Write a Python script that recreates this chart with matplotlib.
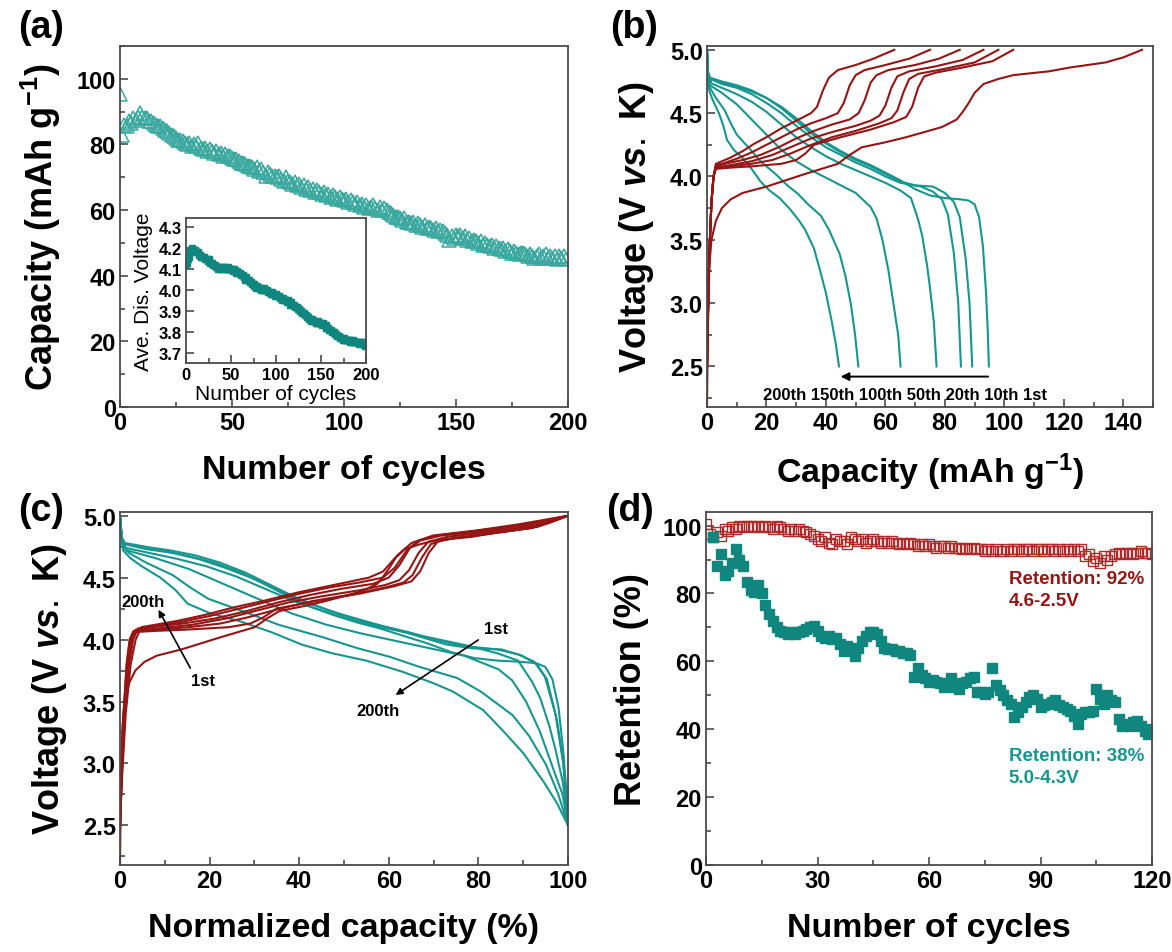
import matplotlib.pyplot as plt
import numpy as np
from matplotlib.ticker import MultipleLocator

plt.rcParams['font.family'] = ['Liberation Sans Narrow', 'Liberation Sans', 'DejaVu Sans']
plt.rcParams['mathtext.fontset'] = 'custom'
plt.rcParams['mathtext.rm'] = 'Liberation Sans'
plt.rcParams['mathtext.bf'] = 'Liberation Sans:bold'
plt.rcParams['mathtext.it'] = 'Liberation Sans:italic:bold'
LABEL_FONT = ['Liberation Sans', 'DejaVu Sans']

TEAL = "#17968f"
TEAL_LIGHT = "#3aa89f"
TEAL_DARK = "#10877e"
RED = "#951515"
RED_LIGHT = "#b02a2a"

# (a) discharge capacity vs cycle
capacity_a = [
    95.5, 83.0, 86.0, 85.5, 87.0, 86.5, 88.0, 87.5, 88.5, 89.5,
    88.5, 88.0, 88.0, 87.0, 87.0, 86.5, 86.0, 85.5, 85.5, 85.0,
    84.5, 84.0, 83.5, 83.0, 82.5, 82.0, 81.5, 81.5, 81.0, 80.5,
    80.0, 80.5, 79.5, 80.0, 79.5, 80.5, 79.0, 78.5, 79.0, 78.0,
    78.5, 78.0, 77.5, 78.0, 77.0, 77.5, 76.5, 77.0, 76.5, 76.5,
    76.0, 75.5, 75.5, 75.0, 74.5, 74.5, 74.0, 73.5, 73.5, 73.0,
    72.5, 73.0, 72.0, 72.5, 71.5, 70.5, 71.5, 71.0, 70.5, 70.5,
    70.0, 70.5, 69.5, 69.0, 70.0, 69.0, 68.5, 68.0, 68.5, 67.5,
    68.0, 67.0, 67.5, 66.5, 67.0, 66.0, 66.5, 65.5, 66.0, 65.5,
    65.0, 65.5, 64.5, 65.0, 64.0, 64.5, 64.0, 63.5, 64.0, 63.5,
    63.0, 63.5, 62.5, 63.0, 62.5, 62.0, 62.5, 61.5, 62.0, 61.0,
    61.5, 60.5, 61.0, 61.5, 60.5, 60.0, 61.0, 60.0, 60.5, 60.0,
    59.5, 59.0, 58.5, 58.0, 58.0, 57.5, 57.0, 57.5, 56.5, 56.5,
    56.0, 56.5, 55.5, 56.0, 55.5, 55.0, 55.5, 54.5, 55.0, 54.5,
    54.0, 54.5, 53.5, 54.0, 53.5, 53.0, 52.5, 51.0, 52.0, 51.5,
    52.5, 52.0, 52.5, 51.5, 52.0, 51.0, 51.5, 50.5, 51.0, 50.5,
    50.0, 50.5, 49.5, 50.0, 49.5, 49.0, 49.5, 48.5, 49.0, 48.5,
    48.0, 48.5, 47.5, 48.0, 47.5, 47.0, 47.5, 47.0, 46.5, 47.0,
    47.0, 46.5, 46.0, 46.5, 46.0, 45.5, 46.0, 46.5, 45.5, 46.0,
    46.5, 45.5, 46.0, 45.5, 46.0, 45.0, 46.0, 45.5, 46.0, 45.0,
]
cycles_a = np.arange(len(capacity_a))

# (a) inset: average discharge voltage
avg_voltage = [
    4.12, 4.13, 4.15, 4.16, 4.18, 4.19, 4.19, 4.20, 4.19, 4.19,
    4.19, 4.18, 4.18, 4.18, 4.17, 4.17, 4.17, 4.16, 4.16, 4.16,
    4.16, 4.15, 4.15, 4.15, 4.14, 4.15, 4.14, 4.13, 4.13, 4.13,
    4.12, 4.12, 4.12, 4.11, 4.11, 4.11, 4.10, 4.11, 4.10, 4.10,
    4.11, 4.11, 4.10, 4.11, 4.10, 4.10, 4.10, 4.11, 4.10, 4.10,
    4.10, 4.10, 4.09, 4.10, 4.09, 4.09, 4.08, 4.09, 4.08, 4.08,
    4.08, 4.07, 4.07, 4.07, 4.06, 4.06, 4.05, 4.06, 4.05, 4.05,
    4.05, 4.04, 4.04, 4.03, 4.03, 4.03, 4.02, 4.02, 4.01, 4.02,
    4.01, 4.01, 4.01, 4.00, 4.01, 4.00, 4.00, 4.01, 4.00, 4.00,
    4.00, 3.99, 3.99, 3.99, 3.98, 3.99, 3.98, 3.98, 3.98, 3.97,
    3.98, 3.97, 3.97, 3.97, 3.96, 3.96, 3.96, 3.95, 3.96, 3.95,
    3.95, 3.95, 3.94, 3.95, 3.94, 3.94, 3.93, 3.94, 3.93, 3.93,
    3.93, 3.92, 3.92, 3.92, 3.91, 3.91, 3.91, 3.90, 3.90, 3.89,
    3.89, 3.89, 3.88, 3.88, 3.87, 3.87, 3.87, 3.86, 3.86, 3.85,
    3.86, 3.85, 3.85, 3.85, 3.84, 3.84, 3.84, 3.85, 3.84, 3.84,
    3.84, 3.83, 3.84, 3.83, 3.83, 3.83, 3.82, 3.82, 3.82, 3.81,
    3.81, 3.81, 3.80, 3.80, 3.80, 3.79, 3.79, 3.79, 3.78, 3.78,
    3.78, 3.77, 3.77, 3.77, 3.76, 3.77, 3.76, 3.76, 3.76, 3.76,
    3.76, 3.76, 3.75, 3.76, 3.75, 3.76, 3.75, 3.75, 3.75, 3.75,
    3.75, 3.75, 3.74, 3.75, 3.75, 3.74, 3.75, 3.74, 3.74, 3.73,
]
cycles_inset = np.arange(len(avg_voltage))

# (b) charge curves (capacity mAh/g, voltage V)
chg_1st_q = [0, 0.3, 0.8, 1.5, 3, 5, 8, 12, 20, 33, 44, 48, 52, 60, 67, 79, 84, 86, 88, 90, 93, 98, 103, 115, 122, 134, 140, 146.3]
chg_1st_v = [2.18, 2.8, 3.3, 3.5, 3.65, 3.75, 3.82, 3.87, 3.92, 4.02, 4.10, 4.17, 4.23, 4.27, 4.31, 4.39, 4.45, 4.51, 4.58, 4.66, 4.73, 4.77, 4.80, 4.83, 4.86, 4.90, 4.94, 5.0]
chg_10_q = [0, 0.3, 0.8, 1.5, 2.2, 3, 8, 15, 25, 30, 33, 36, 45, 55, 63, 67, 69, 71, 73, 77, 86, 96, 103]
chg_10_v = [2.5, 2.9, 3.4, 3.8, 4.0, 4.06, 4.07, 4.08, 4.10, 4.13, 4.18, 4.25, 4.31, 4.37, 4.43, 4.47, 4.55, 4.70, 4.79, 4.82, 4.86, 4.91, 5.0]
chg_20_q = [0, 0.3, 0.8, 1.5, 2.2, 3, 8, 15, 22, 28, 34, 42, 50, 58, 62, 64, 66, 68, 71, 80, 90, 98]
chg_20_v = [2.5, 2.9, 3.4, 3.8, 4.0, 4.07, 4.08, 4.10, 4.13, 4.18, 4.24, 4.31, 4.36, 4.42, 4.46, 4.52, 4.66, 4.77, 4.81, 4.85, 4.90, 5.0]
chg_50_q = [0, 0.3, 0.8, 1.5, 2.2, 3, 8, 15, 22, 28, 35, 42, 50, 55, 58, 60, 62, 64, 68, 77, 86, 93]
chg_50_v = [2.5, 2.9, 3.4, 3.8, 4.0, 4.07, 4.09, 4.12, 4.17, 4.23, 4.30, 4.35, 4.40, 4.44, 4.48, 4.56, 4.70, 4.79, 4.83, 4.87, 4.92, 5.0]
chg_100_q = [0, 0.3, 0.8, 1.5, 2.2, 3, 6, 12, 18, 24, 30, 36, 42, 48, 51, 53, 55, 57, 61, 70, 78, 85]
chg_100_v = [2.5, 2.9, 3.4, 3.8, 4.0, 4.08, 4.10, 4.13, 4.17, 4.23, 4.30, 4.36, 4.41, 4.45, 4.50, 4.60, 4.74, 4.80, 4.84, 4.88, 4.93, 5.0]
chg_150_q = [0, 0.3, 0.8, 1.5, 2.2, 3, 5, 10, 15, 20, 25, 30, 35, 40, 44, 46, 48, 50, 53, 60, 68, 75]
chg_150_v = [2.5, 2.9, 3.4, 3.8, 4.0, 4.09, 4.10, 4.14, 4.19, 4.25, 4.31, 4.37, 4.42, 4.46, 4.50, 4.58, 4.72, 4.80, 4.84, 4.88, 4.93, 5.0]
chg_200_q = [0, 0.3, 0.8, 1.5, 2.2, 3, 4, 8, 12, 16, 20, 25, 30, 35, 37, 39, 41, 44, 50, 56, 63]
chg_200_v = [2.5, 2.9, 3.4, 3.8, 4.0, 4.10, 4.11, 4.15, 4.20, 4.26, 4.31, 4.38, 4.44, 4.50, 4.55, 4.68, 4.78, 4.84, 4.88, 4.93, 5.0]

# (b) discharge curves
dis_1st_q = [0, 0.3, 1, 5, 10, 15, 20, 25, 30, 35, 40, 45, 50, 55, 60, 65, 70, 75, 80, 85, 88, 90, 91.5, 92.8, 93.8, 94.4, 94.8]
dis_1st_v = [5.0, 4.82, 4.77, 4.74, 4.71, 4.67, 4.62, 4.55, 4.46, 4.36, 4.27, 4.20, 4.14, 4.09, 4.03, 3.97, 3.90, 3.85, 3.83, 3.82, 3.81, 3.78, 3.68, 3.45, 3.10, 2.80, 2.5]
dis_10_q = [0, 0.3, 1, 5, 10, 15, 20, 25, 30, 35, 40, 45, 50, 55, 60, 65, 70, 76, 80, 83, 85, 87, 88.3, 89.2]
dis_10_v = [5.0, 4.83, 4.78, 4.75, 4.72, 4.68, 4.62, 4.54, 4.44, 4.34, 4.26, 4.19, 4.13, 4.08, 4.02, 3.96, 3.93, 3.92, 3.87, 3.80, 3.68, 3.35, 3.0, 2.5]
dis_20_q = [0, 0.3, 1, 5, 10, 15, 20, 25, 30, 35, 40, 45, 50, 55, 60, 65, 72, 76, 79, 81, 83, 84.5, 85.4]
dis_20_v = [5.0, 4.82, 4.77, 4.73, 4.70, 4.65, 4.58, 4.50, 4.40, 4.31, 4.23, 4.17, 4.11, 4.06, 4.00, 3.95, 3.92, 3.88, 3.82, 3.70, 3.40, 3.00, 2.5]
dis_50_q = [0, 0.3, 1, 5, 10, 15, 20, 25, 30, 35, 40, 45, 50, 55, 60, 65, 68.6, 71, 72.4, 74, 75, 76.3, 77.2]
dis_50_v = [5.0, 4.80, 4.74, 4.70, 4.65, 4.59, 4.51, 4.41, 4.31, 4.23, 4.16, 4.10, 4.05, 4.00, 3.95, 3.89, 3.83, 3.66, 3.53, 3.30, 3.12, 2.85, 2.5]
dis_100_q = [0, 0.3, 1, 5, 10, 15, 20, 25, 30, 35, 40, 45, 50, 55, 57, 59, 61, 63, 64.3, 65.1]
dis_100_v = [5.0, 4.78, 4.72, 4.66, 4.57, 4.45, 4.33, 4.21, 4.12, 4.05, 3.99, 3.93, 3.87, 3.76, 3.67, 3.50, 3.26, 2.95, 2.75, 2.5]
dis_150_q = [0, 0.3, 1, 3, 6, 8, 10, 14.3, 18, 23, 27, 30.7, 34, 38.3, 41, 44.6, 46.5, 48.4, 49.8, 50.9]
dis_150_v = [5.0, 4.75, 4.70, 4.62, 4.52, 4.42, 4.33, 4.22, 4.12, 4.02, 3.93, 3.86, 3.78, 3.69, 3.58, 3.39, 3.22, 2.99, 2.75, 2.5]
dis_200_q = [0, 0.3, 1, 2, 4, 5.5, 6.7, 9, 11.8, 15, 18, 21, 24.4, 28, 31, 33, 36, 38, 40, 42, 43.3, 44.4]
dis_200_v = [5.0, 4.72, 4.66, 4.60, 4.50, 4.40, 4.29, 4.21, 4.15, 4.06, 3.96, 3.89, 3.83, 3.74, 3.65, 3.58, 3.43, 3.26, 3.08, 2.85, 2.68, 2.5]

charge_curves = [(chg_1st_q, chg_1st_v), (chg_10_q, chg_10_v), (chg_20_q, chg_20_v),
                 (chg_50_q, chg_50_v), (chg_100_q, chg_100_v), (chg_150_q, chg_150_v),
                 (chg_200_q, chg_200_v)]
discharge_curves = [(dis_1st_q, dis_1st_v), (dis_10_q, dis_10_v), (dis_20_q, dis_20_v),
                    (dis_50_q, dis_50_v), (dis_100_q, dis_100_v), (dis_150_q, dis_150_v),
                    (dis_200_q, dis_200_v)]
cycle_labels_b = "200th 150th 100th 50th 20th 10th 1st"

# (d) capacity retention
retention_low = [
    100.5, 97.5, 96.5, 98.0, 97.0, 99.0, 98.5, 99.5, 99.0, 100.0,
    99.5, 100.0, 100.0, 99.5, 100.0, 99.5, 100.0, 99.5, 99.0, 100.0,
    99.5, 99.0, 98.5, 99.0, 98.5, 99.0, 98.5, 98.0, 97.5, 97.0,
    96.0, 95.5, 96.5, 95.0, 94.5, 96.0, 95.5, 95.5, 94.5, 96.5,
    96.0, 95.5, 96.0, 95.0, 95.5, 96.0, 95.5, 95.0, 95.5, 95.0,
    95.5, 95.0, 94.5, 95.0, 94.5, 95.0, 94.5, 94.0, 94.5, 94.0,
    94.5, 94.0, 93.5, 94.0, 94.0, 93.5, 94.0, 93.5, 93.5, 93.0,
    93.5, 93.0, 93.5, 93.0, 93.0, 92.5, 93.0, 92.5, 93.0, 92.5,
    92.5, 93.0, 92.5, 93.0, 93.0, 92.5, 93.0, 93.0, 92.5, 93.0,
    93.0, 92.5, 93.0, 93.0, 92.5, 93.0, 92.5, 93.0, 92.5, 93.0,
    92.5, 93.0, 91.0, 91.5, 89.5, 90.5, 89.0, 91.0, 90.0, 91.0,
    91.5, 92.0, 91.5, 92.0, 92.0, 91.5, 92.0, 92.5, 92.0, 92.0, 91.5,
]
cycles_low = np.arange(len(retention_low))
retention_high = [
    96.5, 88.0, 91.5, 85.5, 86.5, 89.0, 93.0, 90.0, 88.0, 83.5,
    81.0, 80.5, 82.5, 80.0, 76.5, 74.0, 72.0, 70.0, 69.0, 68.5,
    68.0, 68.5, 68.0, 68.5, 69.0, 69.5, 70.0, 70.5, 69.0, 67.5,
    67.0, 67.5, 66.5, 67.0, 65.0, 63.0, 64.5, 63.5, 61.5, 64.0,
    66.0, 67.5, 68.5, 68.5, 68.0, 66.0, 64.0, 63.5, 63.5, 63.0,
    63.0, 62.5, 62.5, 62.0, 55.5, 58.0, 56.0, 55.0, 54.0, 54.5,
    54.0, 53.5, 52.5, 53.5, 55.0, 52.5, 52.0, 53.5, 54.0, 55.0,
    55.5, 51.0, 51.0, 50.5, 51.0, 58.0, 53.0, 51.5, 50.0, 48.5,
    47.5, 43.5, 45.0, 46.5, 48.0, 49.5, 50.0, 49.0, 46.5, 47.0,
    47.5, 48.0, 48.5, 47.0, 46.5, 46.0, 45.5, 44.0, 41.5, 44.5,
    45.0, 45.0, 45.5, 52.0, 49.0, 47.5, 50.0, 48.5, 48.0, 43.0,
    41.0, 41.5, 41.0, 42.0, 42.5, 41.0, 39.5, 38.5, 40.0,
]
cycles_high = np.arange(2, 2 + len(retention_high))

W, H = 1172, 953


def rect(left, top, right, bottom):
    return [left / W, 1 - bottom / H, (right - left) / W, (bottom - top) / H]


def style(ax, size=17):
    for s in ax.spines.values():
        s.set_color("#4a4a4a")
        s.set_linewidth(1.3)
    ax.tick_params(which="both", direction="in", top=False, right=False,
                   width=1.2, pad=3, labelsize=size, colors="#4a4a4a", labelcolor="black")
    ax.tick_params(which="major", length=6)
    ax.tick_params(which="minor", length=3.5)
    for lab in ax.get_xticklabels() + ax.get_yticklabels():
        lab.set_fontweight("bold")


def label(ax, xl, yl, xpad, ypad):
    ax.set_xlabel(xl, fontsize=24.5, fontweight="bold", family=LABEL_FONT, labelpad=xpad)
    ax.set_ylabel(yl, fontsize=26, fontweight="bold", family=LABEL_FONT, labelpad=ypad)


fig = plt.figure(figsize=(11.72, 9.53), dpi=100)

# ---- (a)
ax = fig.add_axes(rect(120, 47, 568, 408))
ax.plot(cycles_a, capacity_a, linestyle="none", marker="^", markersize=10,
        markerfacecolor="none", markeredgecolor=TEAL_LIGHT, markeredgewidth=1.1)
ax.set_xlim(0, 200)
ax.set_ylim(0, 110)
ax.xaxis.set_major_locator(MultipleLocator(50))
ax.xaxis.set_minor_locator(MultipleLocator(25))
ax.yaxis.set_major_locator(MultipleLocator(20))
ax.yaxis.set_minor_locator(MultipleLocator(10))
style(ax)
label(ax, "Number of cycles", "Capacity (mAh g$^{\\mathbf{-1}}$)", 14, 10)

ins = fig.add_axes(rect(186, 219, 366, 364))
ins.plot(cycles_inset, avg_voltage, linestyle="none", marker="s", markersize=4.5,
         color=TEAL_DARK)
ins.set_xlim(0, 200)
ins.set_ylim(3.65, 4.345)
ins.xaxis.set_major_locator(MultipleLocator(50))
ins.xaxis.set_minor_locator(MultipleLocator(25))
ins.yaxis.set_major_locator(MultipleLocator(0.1))
style(ins, size=12)
ins.set_xlabel("Number of cycles", fontsize=15, family=LABEL_FONT, labelpad=1)
ins.set_ylabel("Ave. Dis. Voltage", fontsize=15, family=LABEL_FONT, labelpad=4)

# ---- (b)
ax = fig.add_axes(rect(707, 47, 1153, 408))
for q, v in discharge_curves:
    ax.plot(q, v, color=TEAL, lw=1.5)
for q, v in charge_curves:
    ax.plot(q, v, color=RED, lw=1.5)
ax.annotate("", xy=(44, 2.42), xytext=(95.5, 2.42),
            arrowprops=dict(arrowstyle="-|>", color="black", lw=1.4, mutation_scale=12))
ax.text(66.5, 2.28, cycle_labels_b, fontsize=12, fontweight="bold", ha="center", va="center")
ax.set_xlim(0, 150)
ax.set_ylim(2.18, 5.03)
ax.xaxis.set_major_locator(MultipleLocator(20))
ax.xaxis.set_minor_locator(MultipleLocator(10))
ax.yaxis.set_major_locator(MultipleLocator(0.5))
ax.yaxis.set_minor_locator(MultipleLocator(0.25))
style(ax)
label(ax, "Capacity (mAh g$^{\\mathbf{-1}}$)", "Voltage (V $\\mathit{vs.}$ K)", 12, 10)

# ---- (c) same curves, capacity normalised to each curve's end point
ax = fig.add_axes(rect(120, 513, 568, 866))
for q, v in discharge_curves:
    ax.plot(np.array(q) / q[-1] * 100, v, color=TEAL, lw=1.5)
for q, v in charge_curves:
    ax.plot(np.array(q) / q[-1] * 100, v, color=RED, lw=1.5)
ax.annotate("", xy=(8.3, 4.26), xytext=(16, 3.75),
            arrowprops=dict(arrowstyle="-|>", color="black", lw=1.2, mutation_scale=10))
ax.text(0.3, 4.31, "200th", fontsize=12, fontweight="bold", ha="left", va="center")
ax.text(18.5, 3.67, "1st", fontsize=12, fontweight="bold", ha="center", va="center")
ax.annotate("", xy=(61, 3.54), xytext=(80.5, 4.01),
            arrowprops=dict(arrowstyle="-|>", color="black", lw=1.2, mutation_scale=10))
ax.text(84, 4.09, "1st", fontsize=12, fontweight="bold", ha="center", va="center")
ax.text(57.5, 3.43, "200th", fontsize=12, fontweight="bold", ha="center", va="center")
ax.set_xlim(0, 100)
ax.set_ylim(2.18, 5.03)
ax.xaxis.set_major_locator(MultipleLocator(20))
ax.xaxis.set_minor_locator(MultipleLocator(10))
ax.yaxis.set_major_locator(MultipleLocator(0.5))
ax.yaxis.set_minor_locator(MultipleLocator(0.25))
style(ax)
label(ax, "Normalized capacity (%)", "Voltage (V $\\mathit{vs.}$ K)", 14, 10)

# ---- (d)
ax = fig.add_axes(rect(706, 513, 1152, 866))
ax.plot(cycles_low, retention_low, linestyle="none", marker="s", markersize=6.5,
        markerfacecolor="none", markeredgecolor=RED_LIGHT, markeredgewidth=1.0)
ax.plot(cycles_high, retention_high, linestyle="none", marker="s", markersize=7.5,
        color=TEAL_DARK)
ax.text(81.5, 81.2, "Retention: 92%\n4.6-2.5V", color=RED, fontsize=13.5, fontweight="bold",
        ha="left", va="center", linespacing=1.35)
ax.text(81.5, 29, "Retention: 38%\n5.0-4.3V", color=TEAL, fontsize=13.5, fontweight="bold",
        ha="left", va="center", linespacing=1.35)
ax.set_xlim(0, 120)
ax.set_ylim(0, 104)
ax.xaxis.set_major_locator(MultipleLocator(30))
ax.xaxis.set_minor_locator(MultipleLocator(15))
ax.yaxis.set_major_locator(MultipleLocator(20))
ax.yaxis.set_minor_locator(MultipleLocator(10))
style(ax)
label(ax, "Number of cycles", "Retention (%)", 14, 10)

for txt, x, y in [("(a)", 18, 10), ("(b)", 610, 10), ("(c)", 18, 493), ("(d)", 606, 493)]:
    fig.text(x / W, 1 - y / H, txt, fontsize=27, fontweight="bold", family=LABEL_FONT,
             ha="left", va="top")

fig.savefig("out.png", dpi=100)
